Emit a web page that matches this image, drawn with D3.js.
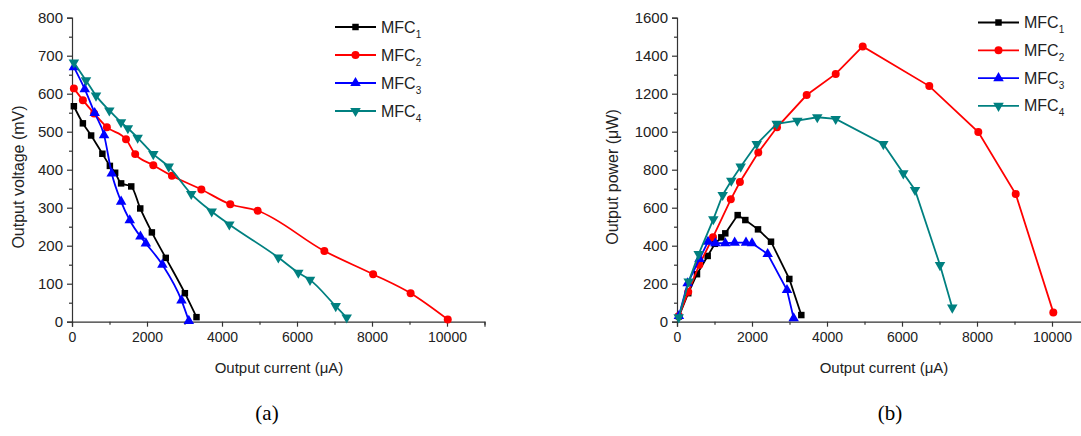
<!DOCTYPE html>
<html><head><meta charset="utf-8">
<script src="https://cdn.jsdelivr.net/npm/d3@7"></script>
<style>
html,body{margin:0;padding:0;background:#fff;}
svg{display:block;}
</style></head>
<body>
<svg id="c" width="1081" height="436"></svg>
<script>
// ---------- data ----------
const seriesNames = ["MFC", "MFC", "MFC", "MFC"];
const seriesSubs = ["1", "2", "3", "4"];
const seriesColors = ["#000000", "#ff0000", "#0000ff", "#008080"];
const seriesSymbols = ["square", "circle", "triangle", "triangleDown"];

const currentTicks = [0, 2000, 4000, 6000, 8000, 10000];
const voltageTicks = [0, 100, 200, 300, 400, 500, 600, 700, 800];
const powerTicks = [0, 200, 400, 600, 800, 1000, 1200, 1400, 1600];

// (a) output voltage (mV) vs output current (uA)
const mfc1CurrentA = [50, 290, 510, 810, 1010, 1150, 1310, 1580, 1820, 2130, 2500, 3010, 3320];
const mfc1Voltage  = [567, 522, 490, 442, 410, 392, 364, 356, 298, 235, 168, 75, 12];
const mfc2CurrentA = [50, 290, 590, 930, 1440, 1685, 2168, 2665, 3450, 4220, 4950, 6730, 8030, 9030, 10020];
const mfc2Voltage  = [614, 583, 548, 512, 480, 441, 412, 384, 348, 309, 292, 186, 125, 75, 6];
const mfc3CurrentA = [50, 340, 605, 855, 1060, 1310, 1540, 1825, 1970, 2410, 2920, 3115];
const mfc3Voltage  = [670, 612, 549, 491, 390, 316, 267, 224, 206, 150, 56, 2];
const mfc4CurrentA = [50, 373, 640, 995, 1307, 1490, 1751, 2168, 2579, 3180, 3725, 4195, 5502, 6035, 6347, 7032, 7325];
const mfc4Voltage  = [682, 635, 595, 556, 525, 509, 484, 441, 408, 336, 290, 256, 169, 129, 110, 41, 11];

// (b) output power (uW) vs output current (uA)
const mfc1CurrentB = [50, 300, 533, 818, 1010, 1182, 1288, 1618, 1822, 2160, 2507, 2995, 3315];
const mfc1Power    = [28, 150, 250, 346, 410, 444, 465, 561, 535, 486, 421, 225, 35];
const mfc2CurrentB = [50, 300, 595, 960, 1435, 1678, 2168, 2667, 3458, 4232, 4952, 6728, 8035, 9032, 10035];
const mfc2Power    = [30, 157, 300, 445, 644, 735, 891, 1023, 1193, 1304, 1449, 1240, 998, 672, 49];
const mfc3CurrentB = [50, 284, 600, 827, 1022, 1288, 1538, 1840, 2000, 2418, 2933, 3111];
const mfc3Power    = [30, 202, 330, 421, 413, 413, 416, 416, 413, 356, 167, 18];
const mfc4CurrentB = [45, 312, 578, 968, 1218, 1448, 1698, 2125, 2658, 3208, 3741, 4232, 5502, 6035, 6347, 7013, 7341];
const mfc4Power    = [23, 211, 356, 539, 667, 742, 816, 935, 1041, 1058, 1076, 1067, 935, 781, 693, 298, 74];

// ---------- build ----------
const SANS = "'Liberation Sans', Arial, sans-serif";
const SERIF = "'Liberation Serif', 'Times New Roman', serif";
const zip = (xs, ys) => xs.map((x, i) => ({x, y: ys[i]}));
const panels = [
  {
    left: 72, ymax: 800, yTicks: voltageTicks, yMinorStep: 50,
    yTitle: "Output voltage (mV)", yTitleX: 24, label: "(a)", labelX: 267,
    xTitleX: 279,
    legendX: 335, legendY: 27, legendDy: 28, curve: d3.curveMonotoneX,
    series: [zip(mfc1CurrentA, mfc1Voltage), zip(mfc2CurrentA, mfc2Voltage),
             zip(mfc3CurrentA, mfc3Voltage), zip(mfc4CurrentA, mfc4Voltage)]
  },
  {
    left: 677, ymax: 1600, yTicks: powerTicks, yMinorStep: 100,
    yTitle: "Output power (\u03bcW)", yTitleX: 618, label: "(b)", labelX: 890,
    xTitleX: 884,
    legendX: 978, legendY: 22.5, legendDy: 27.8, curve: d3.curveLinear,
    series: [zip(mfc1CurrentB, mfc1Power), zip(mfc2CurrentB, mfc2Power),
             zip(mfc3CurrentB, mfc3Power), zip(mfc4CurrentB, mfc4Power)]
  }
];

const svg = d3.select("#c");
const yBottom = 321.7, yTop = 17.7;
const pxPerUnitX = 75 / 2000;

function symbolPath(kind) {
  if (kind === "square") return d3.symbol().type(d3.symbolSquare).size(42)();
  if (kind === "circle") return d3.symbol().type(d3.symbolCircle).size(50)();
  return d3.symbol().type(d3.symbolTriangle).size(48)();
}
function symbolRot(kind) { return kind === "triangleDown" ? " rotate(180)" : ""; }

panels.forEach(p => {
  const x = d3.scaleLinear().domain([0, 11000]).range([p.left, p.left + 11000 * pxPerUnitX]);
  const y = d3.scaleLinear().domain([0, p.ymax]).range([yBottom, yTop]);
  const g = svg.append("g");

  // x axis
  const xAxis = g.append("g").attr("transform", `translate(0,${yBottom})`)
    .call(d3.axisBottom(x).tickValues(currentTicks).tickFormat(d3.format("d")).tickSize(5).tickPadding(5));
  g.append("g").attr("transform", `translate(0,${yBottom})`)
    .call(d3.axisBottom(x).tickValues(d3.range(1000, 11001, 2000)).tickFormat("").tickSize(3))
    .select(".domain").remove();
  // y axis
  const yAxis = g.append("g").attr("transform", `translate(${p.left},0)`)
    .call(d3.axisLeft(y).tickValues(p.yTicks).tickFormat(d3.format("d")).tickSize(5).tickPadding(4));
  g.append("g").attr("transform", `translate(${p.left},0)`)
    .call(d3.axisLeft(y).tickValues(d3.range(p.yMinorStep, p.ymax, p.yMinorStep * 2)).tickFormat("").tickSize(3))
    .select(".domain").remove();

  g.selectAll(".domain, .tick line").attr("stroke", "#333").attr("stroke-width", 1.2);
  g.selectAll(".tick text").attr("fill", "#222").style("font-family", SANS);
  xAxis.selectAll(".tick text").style("font-size", "14px");
  yAxis.selectAll(".tick text").style("font-size", "15px");

  // titles
  g.append("text").attr("x", p.xTitleX).attr("y", 373)
    .attr("text-anchor", "middle").style("font-size", "15px").style("font-family", SANS).attr("fill", "#222")
    .text("Output current (\u03bcA)");
  g.append("text").attr("transform", `translate(${p.yTitleX},177) rotate(-90)`)
    .attr("text-anchor", "middle").style("font-size", "16px").style("font-family", SANS).attr("fill", "#222")
    .text(p.yTitle);
  g.append("text").attr("x", p.labelX).attr("y", 420).attr("text-anchor", "middle")
    .style("font-family", SERIF).style("font-size", "21px")
    .attr("fill", "#000").text(p.label);

  // series
  const line = d3.line().x(d => x(d.x)).y(d => y(d.y)).curve(p.curve);
  p.series.forEach((data, i) => {
    const sg = g.append("g");
    sg.append("path").datum(data).attr("d", line).attr("fill", "none")
      .attr("stroke", seriesColors[i]).attr("stroke-width", 1.8);
    sg.selectAll("path.m").data(data).join("path").attr("class", "m")
      .attr("d", symbolPath(seriesSymbols[i]))
      .attr("transform", d => `translate(${x(d.x)},${y(d.y)})${symbolRot(seriesSymbols[i])}`)
      .attr("fill", seriesColors[i]);
  });

  // legend
  const lg = g.append("g");
  seriesNames.forEach((name, i) => {
    const ly = p.legendY + i * p.legendDy;
    lg.append("line").attr("x1", p.legendX).attr("x2", p.legendX + 41)
      .attr("y1", ly).attr("y2", ly).attr("stroke", seriesColors[i]).attr("stroke-width", 1.8);
    lg.append("path").attr("d", symbolPath(seriesSymbols[i]))
      .attr("transform", `translate(${p.legendX + 20.5},${ly})${symbolRot(seriesSymbols[i])}`)
      .attr("fill", seriesColors[i]);
    const t = lg.append("text").attr("x", p.legendX + 46).attr("y", ly + 5.5)
      .style("font-size", "16px").style("font-family", SANS).attr("fill", "#222");
    t.append("tspan").text(name);
    t.append("tspan").style("font-size", "10px").attr("dy", 5).text(seriesSubs[i]);
  });
});
</script>
</body></html>
